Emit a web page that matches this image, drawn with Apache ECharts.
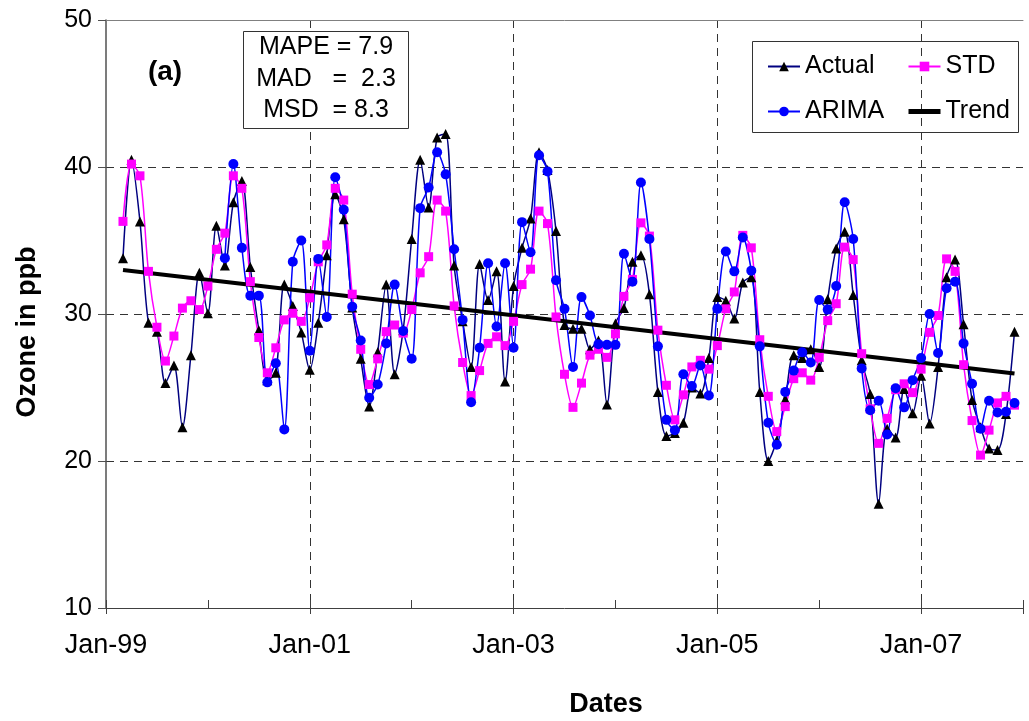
<!DOCTYPE html>
<html>
<head>
<meta charset="utf-8">
<script src="https://cdn.jsdelivr.net/npm/echarts@6/dist/echarts.min.js"></script>
<style>
html,body{margin:0;padding:0;background:#fff;}
#chart{width:1029px;height:721px;}
</style>
</head>
<body>
<div id="chart"></div>
<script>
// Month index 0 = Jan-99. Series start in Mar-99 (index 2), ARIMA starts Mar-00 (index 14).
const actualStart = 2;
const arimaStart = 14;
const xTickLabels = ['Jan-99', 'Jan-01', 'Jan-03', 'Jan-05', 'Jan-07'];
const yTicks = [10, 20, 30, 40, 50];

const actual = [
  33.8, 40.5, 36.3, 29.4, 28.8, 25.3, 26.5, 22.3, 27.2, 32.8, 30.05, 36.0,
  33.3, 37.6, 39.05, 33.2, 28.9, 25.5, 26.0, 32.0, 30.55, 28.75, 26.2, 29.4,
  34.0, 38.15, 36.45, 30.45, 26.95, 23.7, 27.4, 32.0, 25.9, 28.9, 35.1, 40.5,
  37.25, 42.0, 42.25, 33.3, 29.5, 26.4, 33.4, 30.95, 32.9, 25.4, 31.9, 34.5,
  36.5, 41.0, 39.8, 35.65, 29.25, 29.0, 29.0, 27.6, 28.2, 23.85, 29.35, 30.4,
  33.55, 34.0, 31.35, 24.7, 21.7, 21.9, 22.6, 25.0, 24.6, 27.0, 31.15, 30.9,
  29.7, 32.15, 32.5, 24.7, 20.0, 21.4, 24.2, 27.2, 27.0, 27.6, 26.4, 31.0,
  34.45, 35.6, 31.3, 26.85, 24.55, 17.1, 22.2, 21.6, 24.9, 23.25, 25.8, 22.55,
  26.4, 32.5, 33.7, 29.3, 24.15, 22.3, 20.85, 20.75, 23.2, 28.8
];

const std = [
  36.3, 40.2, 39.4, 32.9, 29.1, 26.8, 28.5, 30.4, 30.9, 30.3, 31.9, 34.4,
  35.5, 39.4, 38.55, 32.2, 28.4, 26.0, 27.7, 29.6, 30.05, 29.5, 31.1, 33.55,
  34.7, 38.55, 37.75, 31.35, 27.6, 25.2, 26.95, 28.8, 29.25, 28.7, 30.3, 32.8,
  33.9, 37.75, 37.0, 30.55, 26.7, 24.45, 26.15, 28.0, 28.45, 27.85, 29.5, 32.0,
  33.05, 37.0, 36.15, 29.8, 25.9, 23.65, 25.3, 27.2, 27.6, 27.05, 28.65, 31.2,
  32.35, 36.2, 35.3, 28.9, 25.15, 22.8, 24.5, 26.4, 26.85, 26.25, 27.85, 30.35,
  31.5, 35.35, 34.5, 28.25, 24.4, 22.0, 23.7, 25.6, 26.0, 25.5, 27.05, 29.55,
  30.7, 34.55, 33.7, 27.3, 23.55, 21.2, 22.9, 24.85, 25.25, 24.65, 26.25, 28.75,
  29.9, 33.75, 32.9, 26.55, 22.75, 20.4, 22.1, 23.95, 24.4, 23.8
];

const arima = [
  33.8, 40.2, 34.5, 31.25, 31.25, 25.35, 26.65, 22.15, 33.55, 35.0, 27.5, 33.75,
  29.8, 39.3, 37.1, 30.5, 28.2, 24.3, 25.2, 28.0, 32.0, 28.85, 26.95, 37.2,
  38.6, 41.0, 39.5, 34.4, 29.6, 24.0, 27.7, 33.45, 29.15, 33.45, 27.7, 36.25,
  34.2, 40.8, 39.7, 32.3, 30.35, 26.4, 31.15, 29.9, 27.95, 27.9, 27.9, 34.1,
  32.2, 38.95, 35.1, 27.8, 22.8, 22.1, 25.9, 25.1, 26.5, 24.45, 30.35, 34.25,
  32.9, 35.2, 32.95, 27.8, 22.6, 21.1, 24.7, 26.15, 27.4, 26.7, 30.95, 30.3,
  31.9, 37.6, 35.1, 26.3, 23.45, 24.1, 21.8, 24.95, 23.65, 25.5, 27.0, 30.0,
  27.35, 31.75, 32.2, 28.0, 25.25, 22.2, 24.1, 23.3, 23.35, 23.95
];

// Trend line end points (value at first and last month)
const trendValues = [33.0, 25.95];

const FONT = 'Liberation Sans, Arial, sans-serif';

const actualData = actual.map((v, i) => [actualStart + i, v]);
const stdData = std.map((v, i) => [actualStart + i, v]);
const arimaData = arima.map((v, i) => [arimaStart + i, v]);
const lastMonth = actualStart + actual.length - 1;
const trendData = [[actualStart, trendValues[0]], [lastMonth, trendValues[1]]];

const gridDash = {type: [8, 6], color: '#333', width: 1};

const chart = echarts.init(document.getElementById('chart'), null, {renderer: 'canvas'});
chart.setOption({
  animation: false,
  backgroundColor: '#fff',
  grid: {left: 106, right: 6, top: 20, bottom: 113, containLabel: false},
  xAxis: [
    {
      type: 'value', position: 'bottom', min: 0, max: 108, interval: 12,
      axisLine: {show: true, lineStyle: {color: '#404040', width: 1}},
      axisTick: {show: true, inside: true, length: 8, lineStyle: {color: '#404040'}},
      axisLabel: {show: false},
      splitLine: {show: false}
    },
    {
      type: 'value', position: 'bottom', min: 0, max: 108, interval: 24,
      axisLine: {show: false},
      axisTick: {show: true, inside: false, length: 6, lineStyle: {color: '#404040'}},
      axisLabel: {
        show: true, fontSize: 27, fontFamily: FONT, color: '#000', margin: 24,
        formatter: function (v) { return (v % 24 === 0 && v / 24 < xTickLabels.length) ? xTickLabels[v / 24] : ''; }
      },
      splitLine: {show: true, showMinLine: false, showMaxLine: false, lineStyle: gridDash}
    },
    {
      type: 'value', position: 'top', min: 0, max: 108, interval: 12,
      axisLine: {show: true, lineStyle: {color: '#808080', width: 1}},
      axisTick: {show: false}, axisLabel: {show: false}, splitLine: {show: false}
    }
  ],
  yAxis: {
    type: 'value', min: yTicks[0], max: yTicks[yTicks.length - 1], interval: 10,
    axisLine: {show: true, lineStyle: {color: '#505050', width: 1.5}},
    axisTick: {show: true, inside: false, length: 8, lineStyle: {color: '#505050'}},
    axisLabel: {fontSize: 25, fontFamily: FONT, color: '#000', margin: 14},
    splitLine: {show: true, showMinLine: false, showMaxLine: false, lineStyle: gridDash}
  },
  legend: [
    {
      data: ['Actual', 'ARIMA'], orient: 'vertical', left: 762, top: 49,
      itemWidth: 32, itemHeight: 12, itemGap: 20,
      textStyle: {fontSize: 25, fontFamily: FONT, color: '#000'}
    },
    {
      data: ['STD', {name: 'Trend', itemStyle: {opacity: 0}, lineStyle: {width: 5, color: '#000'}}],
      orient: 'vertical', left: 901, top: 49,
      itemWidth: 32, itemHeight: 12, itemGap: 20,
      textStyle: {fontSize: 25, fontFamily: FONT, color: '#000'}
    }
  ],
  graphic: [
    {type: 'rect', z: 100, shape: {x: 752.5, y: 41.5, width: 266, height: 91},
      style: {fill: 'transparent', stroke: '#333', lineWidth: 1}},
    {type: 'rect', z: 100, shape: {x: 243.5, y: 31.5, width: 165, height: 97},
      style: {fill: '#fff', stroke: '#333', lineWidth: 1}},
    {type: 'text', z: 101, x: 326, y: 47, style: {text: 'MAPE = 7.9', font: '25px ' + FONT, fill: '#000', textAlign: 'center', textVerticalAlign: 'middle'}},
    {type: 'text', z: 101, x: 326, y: 79, style: {text: 'MAD   =  2.3', font: '25px ' + FONT, fill: '#000', textAlign: 'center', textVerticalAlign: 'middle'}},
    {type: 'text', z: 101, x: 326, y: 110, style: {text: 'MSD  = 8.3', font: '25px ' + FONT, fill: '#000', textAlign: 'center', textVerticalAlign: 'middle'}},
    {type: 'text', z: 101, x: 165, y: 72, style: {text: '(a)', font: 'bold 28px ' + FONT, fill: '#000', textAlign: 'center', textVerticalAlign: 'middle'}},
    {type: 'text', z: 101, x: 28, y: 332, rotation: Math.PI / 2, style: {text: 'Ozone in ppb', font: 'bold 27px ' + FONT, fill: '#000', textAlign: 'center', textVerticalAlign: 'middle'}},
    {type: 'text', z: 101, x: 606, y: 705, style: {text: 'Dates', font: 'bold 27px ' + FONT, fill: '#000', textAlign: 'center', textVerticalAlign: 'middle'}}
  ],
  series: [
    {
      name: 'Actual', type: 'line', xAxisIndex: 0, data: actualData, smooth: 0.3,
      symbol: 'triangle', symbolSize: 10,
      lineStyle: {color: '#000080', width: 1.5},
      itemStyle: {color: '#000'}
    },
    {
      name: 'STD', type: 'line', xAxisIndex: 0, data: stdData, smooth: 0.3,
      symbol: 'rect', symbolSize: 9,
      lineStyle: {color: '#ff00ff', width: 1.5},
      itemStyle: {color: '#ff00ff'}
    },
    {
      name: 'ARIMA', type: 'line', xAxisIndex: 0, data: arimaData, smooth: 0.3,
      symbol: 'circle', symbolSize: 10,
      lineStyle: {color: '#0000ff', width: 1.5},
      itemStyle: {color: '#0000ff'}
    },
    {
      name: 'Trend', type: 'line', xAxisIndex: 0, data: trendData,
      symbol: 'none', lineStyle: {color: '#000', width: 4}, itemStyle: {color: '#000'}
    }
  ]
});
</script>
</body>
</html>
